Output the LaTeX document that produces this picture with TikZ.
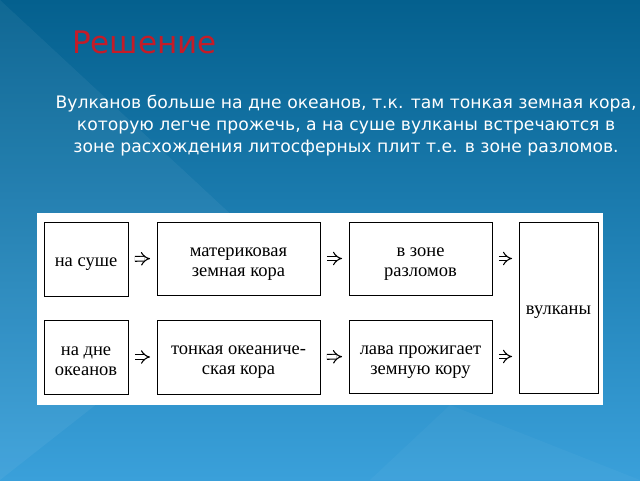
\documentclass[tikz,border=0pt]{standalone}
\usepackage{fontspec}
\setmainfont{Liberation Serif}
\newfontfamily\slidefont{DejaVu Sans}
\usetikzlibrary{arrows.meta}
\definecolor{bgtop}{RGB}{4,96,142}
\definecolor{bgbot}{RGB}{58,160,218}
\definecolor{titlered}{RGB}{196,28,40}
\tikzset{
  box/.style={draw=black, line width=0.9pt, fill=white, inner sep=0pt},
  txt/.style={inner sep=0pt, align=center, font=\fontsize{18.5}{20}\selectfont},
  imp/.style={draw=black, double=white, double distance=3.6pt, line width=1.1pt,
    -{Implies[length=7pt]}, shorten >=6.5pt, shorten <=6.5pt}
}
\begin{document}
\begin{tikzpicture}[x=1pt,y=-1pt]
\useasboundingbox (0,0) rectangle (640,480);
\shade[top color=bgtop, bottom color=bgbot] (0,0) rectangle (640,480);
\fill[white, opacity=0.05] (0,0) -- (280,260) -- (0,480) -- cycle;
\fill[white, opacity=0.03] (450,405) -- (640,480) -- (370,480) -- cycle;
% title and text
\node[anchor=base west, inner sep=0pt, text=titlered, font=\slidefont\fontsize{31}{36}\selectfont] (title) at (72,53) {Решение};
\node[anchor=north, inner sep=0pt, align=center, text=white, font=\slidefont\fontsize{17.2}{22}\selectfont] (para) at (346,94.5)
 {Вулканов больше на дне океанов, т.к. там тонкая земная кора,\\
  которую легче прожечь, а на суше вулканы встречаются в\\
  зоне расхождения литосферных плит т.е. в зоне разломов.};
% panel
\fill[white] (37,213) rectangle (603,405);
% boxes
\node[box, minimum width=84pt, minimum height=74pt] (b1) at (86,259) {};
\node[box, minimum width=163pt, minimum height=73pt] (b2) at (238.5,258.5) {};
\node[box, minimum width=143pt, minimum height=73pt] (b3) at (420.5,258.5) {};
\node[box, minimum width=84pt, minimum height=74pt] (b4) at (86,357) {};
\node[box, minimum width=163pt, minimum height=74pt] (b5) at (238.5,357) {};
\node[box, minimum width=143pt, minimum height=73pt] (b6) at (420.5,356.5) {};
\node[box, minimum width=79pt, minimum height=171pt] (v) at (558.5,307.5) {};
% texts
\node[txt] (b1t) at ([yshift=-5pt]b1.center) {на суше};
\node[txt] (b2t) at ([yshift=-5.5pt]b2.center) {материковая\\земная кора};
\node[txt] (b3t) at ([yshift=-5.5pt]b3.center) {в зоне\\разломов};
\node[txt] (b4t) at ([yshift=-4pt]b4.center) {на дне\\океанов};
\node[txt] (b5t) at ([yshift=-5.5pt]b5.center) {тонкая океаниче-\\ская кора};
\node[txt] (b6t) at ([yshift=-5.5pt]b6.center) {лава прожигает\\земную кору};
\node[txt] (vt) at ([yshift=-4.5pt]v.center) {вулканы};
% arrows
\draw[imp] (b1.east) -- (b2.west);
\draw[imp] (b2.east) -- (b3.west);
\draw[imp] (b3.east) -- (b3.east -| v.west);
\draw[imp] (b4.east) -- (b5.west);
\draw[imp] (b5.east) -- (b6.west);
\draw[imp] (b6.east) -- (b6.east -| v.west);
\end{tikzpicture}
\end{document}
